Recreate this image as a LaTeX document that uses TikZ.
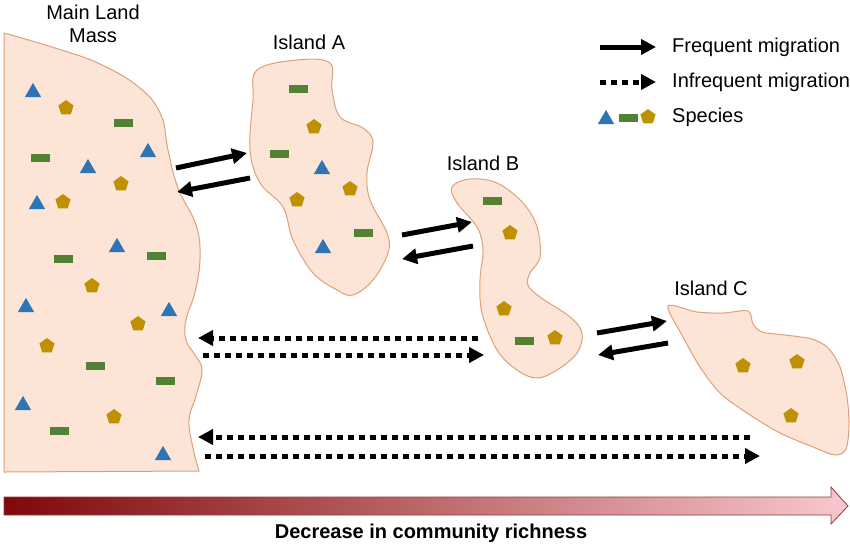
\documentclass[tikz,border=0pt]{standalone}
\usepackage{fontspec}
\setmainfont{Liberation Sans}
\usetikzlibrary{arrows.meta,shapes.geometric}
\definecolor{landfill}{RGB}{252,229,214}
\definecolor{landdraw}{RGB}{222,160,120}
\definecolor{spblue}{RGB}{46,117,182}
\definecolor{spgreen}{RGB}{84,130,53}
\definecolor{spgold}{RGB}{191,144,0}
\definecolor{gradL}{RGB}{128,8,8}
\definecolor{gradM}{RGB}{205,120,120}
\definecolor{gradR}{RGB}{248,200,205}
\definecolor{arrowdraw}{RGB}{140,60,65}
\tikzset{
  land/.style={fill=landfill, draw=landdraw, line width=1pt},
  tri/.style={regular polygon, regular polygon sides=3, fill=spblue, inner sep=0pt, minimum size=19pt, yshift=-2.4pt},
  bar/.style={rectangle, fill=spgreen, inner sep=0pt, minimum width=19pt, minimum height=8pt},
  pent/.style={regular polygon, regular polygon sides=5, fill=spgold, inner sep=0pt, minimum size=16pt},
  lbl/.style={font=\fontsize{20}{23.5}\selectfont, inner sep=0pt},
  fmig/.style={line width=5pt, -{Triangle[length=15pt,width=15pt]}},
  imig/.style={line width=5pt, dash pattern=on 6pt off 5pt, -{Triangle[length=15pt,width=15pt]}},
}
\begin{document}
\begin{tikzpicture}[x=1pt,y=-1pt]
\useasboundingbox (0,0) rectangle (850,547);

% ---- Land masses ----
\draw[land] (4,472) -- (4,33) -- plot[smooth,tension=0.7] coordinates {(4,33) (55,48) (100,64) (140,88) (161,115) (168,150) (178,188) (196,225) (200,258) (195,292) (186,320) (186,340) (195,355) (202,370) (196,396) (189,420) (193,448) (199,471)} -- cycle;

\draw[land] plot[smooth cycle,tension=0.6] coordinates {(257,70) (297,60) (330,63) (332,90) (340,117) (363,128) (373,142) (367,173) (370,200) (387,233) (388,253) (373,280) (353,295) (337,290) (313,273) (293,240) (283,207) (260,183) (250,150) (253,100)};

\draw[land] plot[smooth cycle,tension=0.6] coordinates {(452,187) (470,179) (497,183) (523,203) (537,227) (540,257) (530,273) (528,285) (540,297) (570,317) (582,333) (577,353) (557,370) (537,378) (517,370) (497,350) (482,313) (480,280) (483,250) (477,227) (457,203)};

\draw[land] plot[smooth cycle,tension=0.5] coordinates {(668,306) (697,312) (723,313) (748,311) (753,324) (762,332) (785,335) (812,339) (828,348) (840,367) (847,397) (849,425) (846,449) (835,455) (813,447) (780,433) (747,413) (720,393) (700,367) (683,337)};

% ---- Labels ----
\node[lbl, align=center] (mlab) at (93,24) {Main Land\\Mass};
\node[lbl] (alab) at (309,42) {Island A};
\node[lbl] (blab) at (483,163) {Island B};
\node[lbl] (clab) at (711,288) {Island C};

% ---- Species: mainland ----
\foreach \p [count=\i] in {(33,90),(148,150),(88,166),(37,202),(117,245),(26,305),(169,309),(23,403),(163,453)}
  \node[tri] (mt\i) at \p {};
\foreach \p [count=\i] in {(66,108),(121,184),(63,202),(92,286),(138,324),(47,346),(114,417)}
  \node[pent] (mp\i) at \p {};
\foreach \p [count=\i] in {(123,123),(40,158),(63,259),(156,256),(95,366),(165,381),(59,431)}
  \node[bar] (mb\i) at \p {};

% ---- Species: Island A ----
\node[bar] (ab1) at (298,89) {};
\node[pent] (ap1) at (314,127) {};
\node[bar] (ab2) at (279,154) {};
\node[tri] (at1) at (322,167) {};
\node[pent] (ap2) at (350,189) {};
\node[pent] (ap3) at (297,200) {};
\node[bar] (ab3) at (363,233) {};
\node[tri] (at2) at (323,246) {};

% ---- Species: Island B ----
\node[bar] (bb1) at (492,201) {};
\node[pent] (bp1) at (510,233) {};
\node[pent] (bp2) at (504,309) {};
\node[bar] (bb2) at (524,341) {};
\node[pent] (bp3) at (555,338) {};

% ---- Species: Island C ----
\node[pent] (cp1) at (743,366) {};
\node[pent] (cp2) at (797,362) {};
\node[pent] (cp3) at (791,416) {};

% ---- Migration arrows ----
\coordinate (a1s) at (176,168); \coordinate (a1e) at (247,153);
\coordinate (a2s) at (250,178); \coordinate (a2e) at (177,192);
\coordinate (b1s) at (402,235); \coordinate (b1e) at (472,222);
\coordinate (b2s) at (473,246); \coordinate (b2e) at (402,259);
\coordinate (c1s) at (597,333); \coordinate (c1e) at (667,321);
\coordinate (c2s) at (668,343); \coordinate (c2e) at (598,355);
\draw[fmig] (a1s) -- (a1e);
\draw[fmig] (a2s) -- (a2e);
\draw[fmig] (b1s) -- (b1e);
\draw[fmig] (b2s) -- (b2e);
\draw[fmig] (c1s) -- (c1e);
\draw[fmig] (c2s) -- (c2e);

\coordinate (d1s) at (478,338); \coordinate (d1e) at (198,338);
\coordinate (d2s) at (203,355); \coordinate (d2e) at (484,355);
\coordinate (d3s) at (750,437); \coordinate (d3e) at (198,437);
\coordinate (d4s) at (205,456); \coordinate (d4e) at (760,456);
\draw[imig] (d1s) -- (d1e);
\draw[imig] (d2s) -- (d2e);
\draw[imig] (d3s) -- (d3e);
\draw[imig] (d4s) -- (d4e);

% ---- Legend ----
\coordinate (l1s) at (600,47); \coordinate (l1e) at (656,47);
\coordinate (l2s) at (600,82); \coordinate (l2e) at (656,82);
\draw[fmig] (l1s) -- (l1e);
\draw[imig] (l2s) -- (l2e);
\node[tri] (lt) at (606,117) {};
\node[bar] (lb) at (628,118) {};
\node[pent] (lp) at (648,117) {};
\node[lbl, anchor=west] (lf) at (672,47) {Frequent migration};
\node[lbl, anchor=west] (li) at (672,82) {Infrequent migration};
\node[lbl, anchor=west] (ls) at (672,117) {Species};

% ---- Gradient arrow ----
\path[draw=arrowdraw, line width=0.8pt, left color=gradL, middle color=gradM, right color=gradR]
  (4,497) -- (831,497) -- (831,487) -- (848,506) -- (831,524) -- (831,515) -- (4,515) -- cycle;
\node[lbl, font=\bfseries\fontsize{20}{24}\selectfont] (rich) at (431,533) {Decrease in community richness};
\end{tikzpicture}
\end{document}
